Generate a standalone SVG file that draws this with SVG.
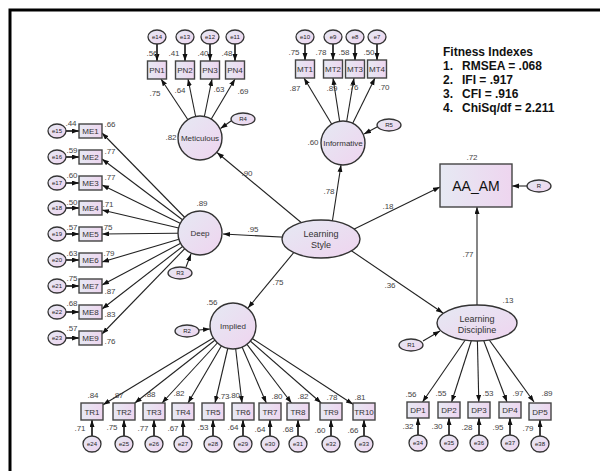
<svg xmlns="http://www.w3.org/2000/svg" width="600" height="471" viewBox="0 0 600 471">
<defs>
<linearGradient id="g" x1="0" y1="0" x2="1" y2="1"><stop offset="0" stop-color="#e5e9f3"/><stop offset="1" stop-color="#efd4ef"/></linearGradient>
<linearGradient id="gb" x1="0" y1="0" x2="1" y2="0"><stop offset="0" stop-color="#e6e9f3"/><stop offset="1" stop-color="#eed5ef"/></linearGradient>
<marker id="a" markerWidth="8" markerHeight="6" refX="7" refY="2.5" orient="auto" markerUnits="userSpaceOnUse"><path d="M0,0 L7,2.5 L0,5 z" fill="#111"/></marker>
<style>
.lat{fill:url(#g);stroke:#333;stroke-width:1.4}
.obs{fill:url(#gb);stroke:#444;stroke-width:1.4}
.err{fill:url(#g);stroke:#333;stroke-width:1.3}
.c{stroke:#222;stroke-width:1.1;fill:none;marker-end:url(#a)}
.ce{stroke:#111;stroke-width:1.6;fill:none;marker-end:url(#a)}
text{font-family:"Liberation Sans",Arial,sans-serif;fill:#333;text-anchor:middle}
.n{font-size:8px}
.l{font-size:8px;fill:#444}
.e{font-size:6px;fill:#222}
.fx{font-size:12px;font-weight:bold;fill:#111;text-anchor:start}
</style>
</defs>
<rect width="600" height="471" fill="#fff"/>
<g id="frame"><path d="M10,471 V10 H600" fill="none" stroke="#000" stroke-width="3"/></g>
<g id="fitness">
<text class="fx" x="443" y="56">Fitness Indexes</text>
<text class="fx" x="443" y="70">1.<tspan x="462">RMSEA = .068</tspan></text>
<text class="fx" x="443" y="84">2.<tspan x="462">IFI = .917</tspan></text>
<text class="fx" x="443" y="98">3.<tspan x="462">CFI = .916</tspan></text>
<text class="fx" x="443" y="112">4.<tspan x="462">ChiSq/df = 2.211</tspan></text>
</g>
<g id="connectors">
<line class="c" x1="321" y1="239" x2="217" y2="152.5"/>
<line class="c" x1="331" y1="230" x2="341" y2="165"/>
<line class="c" x1="300" y1="238" x2="223" y2="234"/>
<line class="c" x1="300" y1="245" x2="248" y2="308"/>
<line class="c" x1="340" y1="236" x2="440" y2="187"/>
<line class="c" x1="340" y1="243" x2="443" y2="313"/>
<line class="c" x1="477" y1="306" x2="477" y2="207"/>
<text class="l" x="247" y="176">.90</text>
<text class="l" x="329" y="194">.78</text>
<text class="l" x="253" y="232">.95</text>
<text class="l" x="278" y="285">.75</text>
<text class="l" x="388" y="209">.18</text>
<text class="l" x="390" y="288">.36</text>
<text class="l" x="468" y="257">.77</text>
<line class="c" x1="527" y1="186" x2="512" y2="186"/>
<line class="c" x1="423" y1="341" x2="440" y2="331"/>
<line class="c" x1="199" y1="330" x2="210" y2="329"/>
<line class="c" x1="186" y1="267" x2="191" y2="254"/>
<line class="c" x1="231" y1="121" x2="220.5" y2="128.5"/>
<line class="c" x1="377" y1="127" x2="364" y2="134"/>
<line class="c" x1="200" y1="138" x2="161" y2="79"/>
<line class="c" x1="200" y1="138" x2="188" y2="79"/>
<line class="c" x1="200" y1="138" x2="212" y2="79"/>
<line class="c" x1="200" y1="138" x2="235" y2="79"/>
<line class="c" x1="343" y1="143" x2="304" y2="78"/>
<line class="c" x1="343" y1="143" x2="333" y2="78"/>
<line class="c" x1="343" y1="143" x2="354" y2="78"/>
<line class="c" x1="343" y1="143" x2="375" y2="78"/>
<line class="c" x1="200" y1="233" x2="102" y2="133"/>
<line class="c" x1="200" y1="233" x2="102" y2="159"/>
<line class="c" x1="200" y1="233" x2="102" y2="185"/>
<line class="c" x1="200" y1="233" x2="102" y2="210"/>
<line class="c" x1="200" y1="233" x2="102" y2="234"/>
<line class="c" x1="200" y1="233" x2="102" y2="262"/>
<line class="c" x1="200" y1="233" x2="102" y2="285"/>
<line class="c" x1="200" y1="233" x2="102" y2="309"/>
<line class="c" x1="200" y1="233" x2="102" y2="334"/>
<line class="c" x1="233" y1="326" x2="103" y2="404.8"/>
<line class="c" x1="233" y1="326" x2="134.8" y2="403"/>
<line class="c" x1="233" y1="326" x2="162" y2="403"/>
<line class="c" x1="233" y1="326" x2="188" y2="403"/>
<line class="c" x1="233" y1="326" x2="215" y2="403"/>
<line class="c" x1="233" y1="326" x2="242" y2="403"/>
<line class="c" x1="233" y1="326" x2="266.3" y2="403"/>
<line class="c" x1="233" y1="326" x2="291.5" y2="403"/>
<line class="c" x1="233" y1="326" x2="321.2" y2="403"/>
<line class="c" x1="233" y1="326" x2="353" y2="404.3"/>
<line class="c" x1="477" y1="323" x2="422.5" y2="402"/>
<line class="c" x1="477" y1="323" x2="451.6" y2="402"/>
<line class="c" x1="477" y1="323" x2="478.8" y2="402"/>
<line class="c" x1="477" y1="323" x2="507" y2="402"/>
<line class="c" x1="477" y1="323" x2="534" y2="402"/>
<line class="ce" x1="157" y1="44" x2="157" y2="61"/>
<line class="ce" x1="185" y1="44" x2="185" y2="61"/>
<line class="ce" x1="210" y1="44" x2="210" y2="61"/>
<line class="ce" x1="235" y1="44" x2="235" y2="61"/>
<line class="ce" x1="305" y1="44" x2="305" y2="60"/>
<line class="ce" x1="333" y1="44" x2="333" y2="60"/>
<line class="ce" x1="355" y1="44" x2="355" y2="60"/>
<line class="ce" x1="377" y1="44" x2="377" y2="60"/>
<line class="ce" x1="66" y1="131" x2="79" y2="131"/>
<line class="ce" x1="66" y1="157" x2="79" y2="157"/>
<line class="ce" x1="66" y1="183" x2="79" y2="183"/>
<line class="ce" x1="66" y1="208" x2="79" y2="208"/>
<line class="ce" x1="66" y1="234" x2="79" y2="234"/>
<line class="ce" x1="66" y1="260" x2="79" y2="260"/>
<line class="ce" x1="66" y1="286" x2="79" y2="286"/>
<line class="ce" x1="66" y1="312" x2="79" y2="312"/>
<line class="ce" x1="66" y1="338" x2="79" y2="338"/>
<line class="ce" x1="92" y1="436" x2="92" y2="420"/>
<line class="ce" x1="124" y1="436" x2="124" y2="420"/>
<line class="ce" x1="154" y1="436" x2="154" y2="420"/>
<line class="ce" x1="183" y1="436" x2="183" y2="420"/>
<line class="ce" x1="213" y1="436" x2="213" y2="420"/>
<line class="ce" x1="243" y1="436" x2="243" y2="420"/>
<line class="ce" x1="270" y1="436" x2="270" y2="420"/>
<line class="ce" x1="298" y1="436" x2="298" y2="420"/>
<line class="ce" x1="331" y1="436" x2="331" y2="420"/>
<line class="ce" x1="364" y1="436" x2="364" y2="420"/>
<line class="ce" x1="418" y1="435" x2="418" y2="418"/>
<line class="ce" x1="449" y1="435" x2="449" y2="418"/>
<line class="ce" x1="479" y1="435" x2="479" y2="418"/>
<line class="ce" x1="510" y1="435" x2="510" y2="418"/>
<line class="ce" x1="540" y1="436" x2="540" y2="420"/>
</g>
<g id="LearningStyle"><ellipse class="lat" cx="321" cy="239" rx="39" ry="19"/><text class="n" style="font-size:9px" x="321" y="237">Learning</text><text class="n" style="font-size:9px" x="321" y="248">Style</text></g>
<g id="Meticulous"><circle class="lat" cx="200" cy="138" r="22"/><text class="n" x="200" y="141">Meticulous</text><text class="l" x="171" y="140">.82</text></g>
<g id="Informative"><circle class="lat" cx="343" cy="143" r="22"/><text class="n" x="343" y="146">Informative</text><text class="l" x="313" y="145">.60</text></g>
<g id="Deep"><circle class="lat" cx="200" cy="233" r="22"/><text class="n" x="200" y="236">Deep</text><text class="l" x="202" y="206">.89</text></g>
<g id="Implied"><circle class="lat" cx="233" cy="326" r="23"/><text class="n" x="233" y="329">Implied</text><text class="l" x="212" y="305">.56</text></g>
<g id="LearningDiscipline"><ellipse class="lat" cx="477" cy="323" rx="40" ry="18"/><text class="n" style="font-size:9px" x="477" y="322">Learning</text><text class="n" style="font-size:9px" x="477" y="333">Discipline</text><text class="l" x="508" y="303">.13</text></g>
<g id="AA_AM"><rect class="obs" x="440" y="164" width="72" height="43"/><text x="476" y="191" style="font-size:14px;fill:#111">AA_AM</text><text class="l" x="472" y="160">.72</text></g>
<g id="R"><ellipse class="err" cx="539" cy="186" rx="12" ry="6"/><text class="e" x="539" y="188">R</text></g>
<g id="R1"><ellipse class="err" cx="411" cy="345" rx="12" ry="6"/><text class="e" x="411" y="347">R1</text></g>
<g id="R2"><ellipse class="err" cx="187" cy="331" rx="12" ry="6"/><text class="e" x="187" y="333">R2</text></g>
<g id="R3"><ellipse class="err" cx="180" cy="273" rx="12" ry="6"/><text class="e" x="180" y="275">R3</text></g>
<g id="R4"><ellipse class="err" cx="243" cy="119" rx="12" ry="6"/><text class="e" x="243" y="121">R4</text></g>
<g id="R5"><ellipse class="err" cx="389" cy="125" rx="12" ry="6"/><text class="e" x="389" y="127">R5</text></g>
<g id="PN1"><rect class="obs" x="147.5" y="61" width="19" height="18"/><text class="n" x="157" y="73">PN1</text><ellipse class="err" cx="157" cy="37" rx="9" ry="7"/><text class="e" x="157" y="39">e14</text><text class="l" x="152" y="56">.56</text><text class="l" x="155" y="96">.75</text></g>
<g id="PN2"><rect class="obs" x="175.5" y="61" width="19" height="18"/><text class="n" x="185" y="73">PN2</text><ellipse class="err" cx="185" cy="37" rx="9" ry="7"/><text class="e" x="185" y="39">e13</text><text class="l" x="174" y="56">.41</text><text class="l" x="180" y="93">.64</text></g>
<g id="PN3"><rect class="obs" x="200.5" y="61" width="19" height="18"/><text class="n" x="210" y="73">PN3</text><ellipse class="err" cx="210" cy="37" rx="9" ry="7"/><text class="e" x="210" y="39">e12</text><text class="l" x="203" y="56">.40</text><text class="l" x="219" y="92">.63</text></g>
<g id="PN4"><rect class="obs" x="225.5" y="61" width="19" height="18"/><text class="n" x="235" y="73">PN4</text><ellipse class="err" cx="235" cy="37" rx="9" ry="7"/><text class="e" x="235" y="39">e11</text><text class="l" x="227" y="56">.48</text><text class="l" x="243" y="94">.69</text></g>
<g id="MT1"><rect class="obs" x="295.5" y="60" width="19" height="18"/><text class="n" x="305" y="72">MT1</text><ellipse class="err" cx="305" cy="37" rx="9" ry="7"/><text class="e" x="305" y="39">e10</text><text class="l" x="294" y="55">.75</text><text class="l" x="295" y="91">.87</text></g>
<g id="MT2"><rect class="obs" x="323.5" y="60" width="19" height="18"/><text class="n" x="333" y="72">MT2</text><ellipse class="err" cx="333" cy="37" rx="9" ry="7"/><text class="e" x="333" y="39">e9</text><text class="l" x="321" y="55">.78</text><text class="l" x="332" y="91">.89</text></g>
<g id="MT3"><rect class="obs" x="345.5" y="60" width="19" height="18"/><text class="n" x="355" y="72">MT3</text><ellipse class="err" cx="355" cy="37" rx="9" ry="7"/><text class="e" x="355" y="39">e8</text><text class="l" x="344" y="55">.58</text><text class="l" x="353" y="90">.76</text></g>
<g id="MT4"><rect class="obs" x="367.5" y="60" width="19" height="18"/><text class="n" x="377" y="72">MT4</text><ellipse class="err" cx="377" cy="37" rx="9" ry="7"/><text class="e" x="377" y="39">e7</text><text class="l" x="369" y="55">.50</text><text class="l" x="384" y="90">.70</text></g>
<g id="ME1"><rect class="obs" x="79" y="124" width="23" height="14"/><text class="n" x="90.5" y="134">ME1</text><ellipse class="err" cx="57" cy="131" rx="9" ry="7"/><text class="e" x="57" y="133">e15</text><text class="l" x="71" y="126">.44</text><text class="l" x="110" y="127">.66</text></g>
<g id="ME2"><rect class="obs" x="79" y="150" width="23" height="14"/><text class="n" x="90.5" y="160">ME2</text><ellipse class="err" cx="57" cy="157" rx="9" ry="7"/><text class="e" x="57" y="159">e16</text><text class="l" x="72" y="153">.59</text><text class="l" x="110" y="154">.77</text></g>
<g id="ME3"><rect class="obs" x="79" y="176" width="23" height="14"/><text class="n" x="90.5" y="186">ME3</text><ellipse class="err" cx="57" cy="183" rx="9" ry="7"/><text class="e" x="57" y="185">e17</text><text class="l" x="72" y="178">.60</text><text class="l" x="110" y="180">.77</text></g>
<g id="ME4"><rect class="obs" x="79" y="201" width="23" height="14"/><text class="n" x="90.5" y="211">ME4</text><ellipse class="err" cx="57" cy="208" rx="9" ry="7"/><text class="e" x="57" y="210">e18</text><text class="l" x="72" y="205">.50</text><text class="l" x="108" y="207">.71</text></g>
<g id="ME5"><rect class="obs" x="79" y="227" width="23" height="14"/><text class="n" x="90.5" y="237">ME5</text><ellipse class="err" cx="57" cy="234" rx="9" ry="7"/><text class="e" x="57" y="236">e19</text><text class="l" x="72" y="230">.57</text><text class="l" x="107" y="230">.75</text></g>
<g id="ME6"><rect class="obs" x="79" y="253" width="23" height="14"/><text class="n" x="90.5" y="263">ME6</text><ellipse class="err" cx="57" cy="260" rx="9" ry="7"/><text class="e" x="57" y="262">e20</text><text class="l" x="72" y="256">.63</text><text class="l" x="109" y="256">.79</text></g>
<g id="ME7"><rect class="obs" x="79" y="279" width="23" height="14"/><text class="n" x="90.5" y="289">ME7</text><ellipse class="err" cx="57" cy="286" rx="9" ry="7"/><text class="e" x="57" y="288">e21</text><text class="l" x="72" y="281">.75</text><text class="l" x="110" y="294">.87</text></g>
<g id="ME8"><rect class="obs" x="79" y="305" width="23" height="14"/><text class="n" x="90.5" y="315">ME8</text><ellipse class="err" cx="57" cy="312" rx="9" ry="7"/><text class="e" x="57" y="314">e22</text><text class="l" x="72" y="306">.68</text><text class="l" x="110" y="317">.83</text></g>
<g id="ME9"><rect class="obs" x="79" y="331" width="23" height="14"/><text class="n" x="90.5" y="341">ME9</text><ellipse class="err" cx="57" cy="338" rx="9" ry="7"/><text class="e" x="57" y="340">e23</text><text class="l" x="72" y="331">.57</text><text class="l" x="110" y="344">.76</text></g>
<g id="TR1"><rect class="obs" x="81" y="403" width="22" height="17"/><text class="n" x="92" y="414.5">TR1</text><ellipse class="err" cx="92" cy="444" rx="9" ry="8"/><text class="e" x="92" y="446">e24</text><text class="l" x="93" y="398">.84</text><text class="l" x="80" y="431">.71</text></g>
<g id="TR2"><rect class="obs" x="113" y="403" width="22" height="17"/><text class="n" x="124" y="414.5">TR2</text><ellipse class="err" cx="124" cy="444" rx="9" ry="8"/><text class="e" x="124" y="446">e25</text><text class="l" x="118" y="398">.87</text><text class="l" x="112" y="430">.75</text></g>
<g id="TR3"><rect class="obs" x="143" y="403" width="22" height="17"/><text class="n" x="154" y="414.5">TR3</text><ellipse class="err" cx="154" cy="444" rx="9" ry="8"/><text class="e" x="154" y="446">e26</text><text class="l" x="150" y="397">.88</text><text class="l" x="143" y="431">.77</text></g>
<g id="TR4"><rect class="obs" x="172" y="403" width="22" height="17"/><text class="n" x="183" y="414.5">TR4</text><ellipse class="err" cx="183" cy="444" rx="9" ry="8"/><text class="e" x="183" y="446">e27</text><text class="l" x="179" y="396">.82</text><text class="l" x="173" y="431">.67</text></g>
<g id="TR5"><rect class="obs" x="202" y="403" width="22" height="17"/><text class="n" x="213" y="414.5">TR5</text><ellipse class="err" cx="213" cy="444" rx="9" ry="8"/><text class="e" x="213" y="446">e28</text><text class="l" x="224" y="399">.73</text><text class="l" x="203" y="430">.53</text></g>
<g id="TR6"><rect class="obs" x="232" y="403" width="22" height="17"/><text class="n" x="243" y="414.5">TR6</text><ellipse class="err" cx="243" cy="444" rx="9" ry="8"/><text class="e" x="243" y="446">e29</text><text class="l" x="234.5" y="398">.80</text><text class="l" x="233" y="430">.64</text></g>
<g id="TR7"><rect class="obs" x="259" y="403" width="22" height="17"/><text class="n" x="270" y="414.5">TR7</text><ellipse class="err" cx="270" cy="444" rx="9" ry="8"/><text class="e" x="270" y="446">e30</text><text class="l" x="277" y="399">.80</text><text class="l" x="260" y="432">.64</text></g>
<g id="TR8"><rect class="obs" x="287" y="403" width="22" height="17"/><text class="n" x="298" y="414.5">TR8</text><ellipse class="err" cx="298" cy="444" rx="9" ry="8"/><text class="e" x="298" y="446">e31</text><text class="l" x="303" y="399">.82</text><text class="l" x="288" y="432">.68</text></g>
<g id="TR9"><rect class="obs" x="320" y="403" width="22" height="17"/><text class="n" x="331" y="414.5">TR9</text><ellipse class="err" cx="331" cy="444" rx="9" ry="8"/><text class="e" x="331" y="446">e32</text><text class="l" x="332" y="400">.78</text><text class="l" x="320" y="433">.60</text></g>
<g id="TR10"><rect class="obs" x="353" y="403" width="22" height="17"/><text class="n" x="364" y="414.5">TR10</text><ellipse class="err" cx="364" cy="444" rx="9" ry="8"/><text class="e" x="364" y="446">e33</text><text class="l" x="360" y="400">.81</text><text class="l" x="353" y="433">.66</text></g>
<g id="DP1"><rect class="obs" x="407" y="402" width="22" height="16"/><text class="n" x="418" y="413">DP1</text><ellipse class="err" cx="418" cy="443" rx="9" ry="8"/><text class="e" x="418" y="445">e34</text><text class="l" x="411" y="397">.56</text><text class="l" x="408" y="429">.32</text></g>
<g id="DP2"><rect class="obs" x="438" y="402" width="22" height="16"/><text class="n" x="449" y="413">DP2</text><ellipse class="err" cx="449" cy="443" rx="9" ry="8"/><text class="e" x="449" y="445">e35</text><text class="l" x="441" y="396">.55</text><text class="l" x="437" y="429">.30</text></g>
<g id="DP3"><rect class="obs" x="468" y="402" width="22" height="16"/><text class="n" x="479" y="413">DP3</text><ellipse class="err" cx="479" cy="443" rx="9" ry="8"/><text class="e" x="479" y="445">e36</text><text class="l" x="488" y="396">.53</text><text class="l" x="467" y="430">.28</text></g>
<g id="DP4"><rect class="obs" x="499" y="402" width="22" height="16"/><text class="n" x="510" y="413">DP4</text><ellipse class="err" cx="510" cy="443" rx="9" ry="8"/><text class="e" x="510" y="445">e37</text><text class="l" x="518" y="396">.97</text><text class="l" x="498" y="430">.95</text></g>
<g id="DP5"><rect class="obs" x="529" y="403" width="22" height="17"/><text class="n" x="540" y="414.5">DP5</text><ellipse class="err" cx="540" cy="444" rx="9" ry="8"/><text class="e" x="540" y="446">e38</text><text class="l" x="547" y="396">.89</text><text class="l" x="528" y="431">.79</text></g>
</svg>
